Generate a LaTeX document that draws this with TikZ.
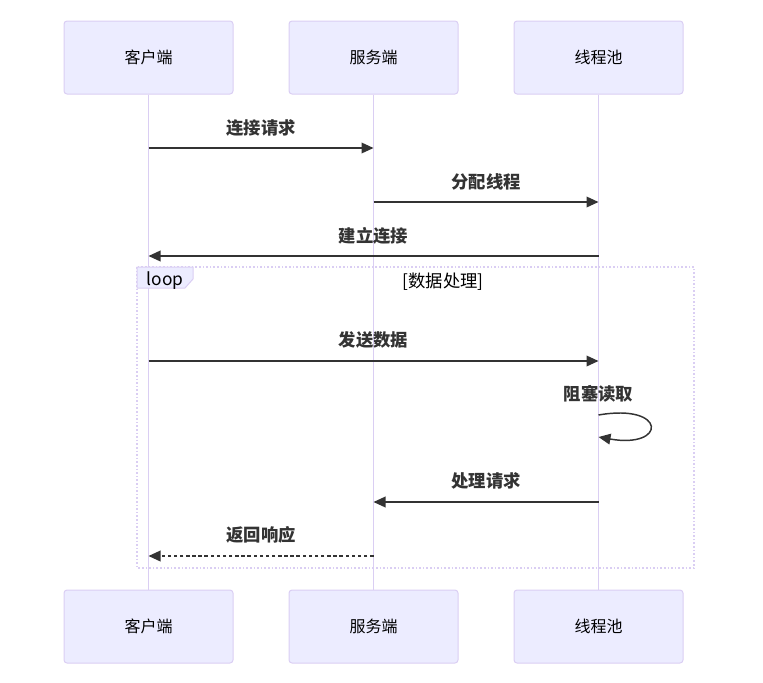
\documentclass[tikz,border=0pt]{standalone}
\usepackage{fontspec}
\setmainfont{Noto Sans CJK SC}
\usetikzlibrary{arrows.meta}
\definecolor{actfill}{HTML}{ECECFF}
\definecolor{actline}{HTML}{DACEF3}
\definecolor{txt}{HTML}{333333}
\begin{document}
\begin{tikzpicture}[x=0.75pt,y=-0.75pt,
  actor/.style={draw=actline, fill=actfill, rounded corners=2.25pt, line width=0.75pt,
    minimum width=169*0.75pt, minimum height=73*0.75pt, inner sep=0pt,
    font=\fontsize{12pt}{14pt}\selectfont, text=black},
  life/.style={draw=actline, line width=1.2pt},
  msg/.style={draw=txt, line width=1.1pt, -{Triangle[length=9pt,width=8pt]}},
  lbl/.style={text=txt, inner sep=0pt, font=\bfseries\fontsize{13pt}{15pt}\selectfont},
  looptxt/.style={text=black, inner sep=0pt, font=\fontsize{13pt}{15pt}\selectfont}]
\useasboundingbox (0,0) rectangle (763,682);
% actors
\node[actor] (a1t) at (148.5,57.5) {\raisebox{-1.5pt}{客户端}};
\node[actor] (a2t) at (373.5,57.5) {\raisebox{-1.5pt}{服务端}};
\node[actor] (a3t) at (598.5,57.5) {\raisebox{-1.5pt}{线程池}};
\node[actor] (a1b) at (148.5,626.5) {\raisebox{-1.5pt}{客户端}};
\node[actor] (a2b) at (373.5,626.5) {\raisebox{-1.5pt}{服务端}};
\node[actor] (a3b) at (598.5,626.5) {\raisebox{-1.5pt}{线程池}};
% lifelines
\draw[life] (a1t.south) -- (a1b.north);
\draw[life] (a2t.south) -- (a2b.north);
\draw[life] (a3t.south) -- (a3b.north);
% loop frame
\draw[actline, line width=1.3pt, dash pattern=on 1.2pt off 1.5pt] (137,267) rectangle (694,568);
\draw[actline, fill=actfill, line width=0.75pt] (137,267) -- (193,267) -- (193,279) -- (185,288) -- (137,288) -- cycle;
\node[looptxt] (looplbl) at (165,281) {loop};
\node[looptxt] (loopcond) at (443,282) {[数据处理]};
% message anchor coordinates
\coordinate (m1s) at (a1t.south |- 0,148);
\coordinate (m1e) at (a2t.south |- 0,148);
\coordinate (m2s) at (a2t.south |- 0,202);
\coordinate (m2e) at (a3t.south |- 0,202);
\coordinate (m3s) at (a3t.south |- 0,256);
\coordinate (m3e) at (a1t.south |- 0,256);
\coordinate (m4s) at (a1t.south |- 0,361);
\coordinate (m4e) at (a3t.south |- 0,361);
\coordinate (m5s) at (a3t.south |- 0,415);
\coordinate (m5e) at (a3t.south |- 0,437);
\coordinate (m6s) at (a3t.south |- 0,502);
\coordinate (m6e) at (a2t.south |- 0,502);
\coordinate (m7s) at (a2t.south |- 0,556);
\coordinate (m7e) at (a1t.south |- 0,556);
% messages
\draw[msg] (m1s) -- (m1e);
\node[lbl] (l1) at (261,128) {连接请求};
\draw[msg] (m2s) -- (m2e);
\node[lbl] (l2) at (486,182) {分配线程};
\draw[msg] (m3s) -- (m3e);
\node[lbl] (l3) at (373.5,236) {建立连接};
\draw[msg] (m4s) -- (m4e);
\node[lbl] (l4) at (373.5,340) {发送数据};
\draw[msg] (m5s) .. controls (667,403) and (667,449) .. (m5e);
\node[lbl] (l5) at (598.5,394) {阻塞读取};
\draw[msg] (m6s) -- (m6e);
\node[lbl] (l6) at (486,481) {处理请求};
\draw[msg, dash pattern=on 2.6pt off 2pt] (m7s) -- (m7e);
\node[lbl] (l7) at (261,535) {返回响应};
\end{tikzpicture}
\end{document}
